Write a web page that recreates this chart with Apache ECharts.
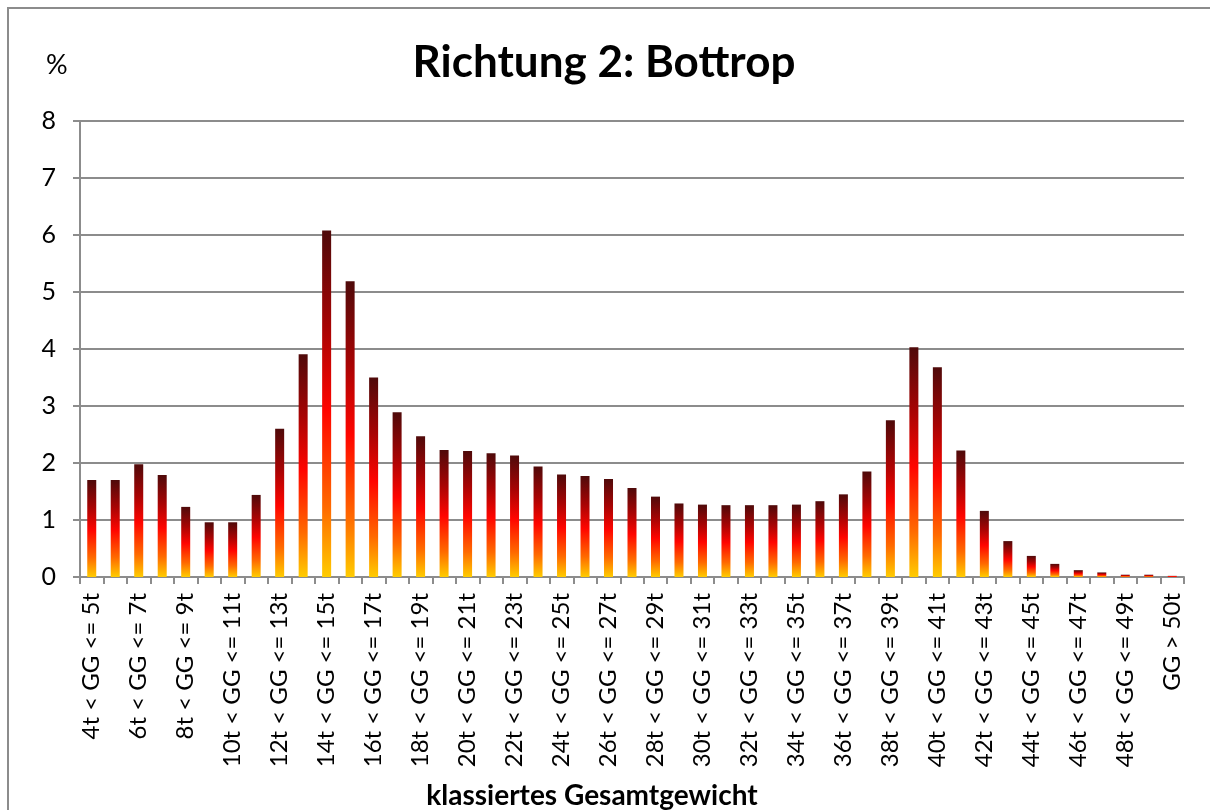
<!DOCTYPE html>
<html>
<head>
<meta charset="utf-8">
<script src="https://cdn.jsdelivr.net/npm/echarts@6/dist/echarts.min.js"></script>
<style>html,body{margin:0;padding:0;background:#fff;}#c{width:1210px;height:810px;}</style>
</head>
<body>
<div id="c"></div>
<script>
const categories = [
  '4t < GG <= 5t','5t < GG <= 6t','6t < GG <= 7t','7t < GG <= 8t','8t < GG <= 9t',
  '9t < GG <= 10t','10t < GG <= 11t','11t < GG <= 12t','12t < GG <= 13t','13t < GG <= 14t',
  '14t < GG <= 15t','15t < GG <= 16t','16t < GG <= 17t','17t < GG <= 18t','18t < GG <= 19t',
  '19t < GG <= 20t','20t < GG <= 21t','21t < GG <= 22t','22t < GG <= 23t','23t < GG <= 24t',
  '24t < GG <= 25t','25t < GG <= 26t','26t < GG <= 27t','27t < GG <= 28t','28t < GG <= 29t',
  '29t < GG <= 30t','30t < GG <= 31t','31t < GG <= 32t','32t < GG <= 33t','33t < GG <= 34t',
  '34t < GG <= 35t','35t < GG <= 36t','36t < GG <= 37t','37t < GG <= 38t','38t < GG <= 39t',
  '39t < GG <= 40t','40t < GG <= 41t','41t < GG <= 42t','42t < GG <= 43t','43t < GG <= 44t',
  '44t < GG <= 45t','45t < GG <= 46t','46t < GG <= 47t','47t < GG <= 48t','48t < GG <= 49t',
  '49t < GG <= 50t','GG > 50t'
];
const values = [
  1.70, 1.70, 1.98, 1.79, 1.23, 0.96, 0.96, 1.44, 2.60, 3.91,
  6.08, 5.19, 3.50, 2.89, 2.47, 2.23, 2.21, 2.17, 2.13, 1.94,
  1.80, 1.77, 1.72, 1.56, 1.41, 1.29, 1.27, 1.26, 1.26, 1.26,
  1.27, 1.33, 1.45, 1.85, 2.75, 4.03, 3.68, 2.22, 1.16, 0.63,
  0.37, 0.23, 0.12, 0.08, 0.04, 0.04, 0.02
];
const yTicks = [0, 1, 2, 3, 4, 5, 6, 7, 8];

const chart = echarts.init(document.getElementById('c'), null, {renderer: 'canvas'});
const axisColor = '#8c8c8c';
chart.setOption({
  backgroundColor: '#ffffff',
  animation: false,
  title: [
    {text: 'Richtung 2: Bottrop', left: 599, top: 36, textAlign: 'center',
     textStyle: {fontFamily: 'Lato', fontWeight: 'bold', fontSize: 44, color: '#000'}},
    {text: '%', left: 41, top: 47,
     textStyle: {fontFamily: 'Lato', fontWeight: 'normal', fontSize: 27, color: '#000'}},
    {text: 'klassiertes Gesamtgewicht', left: 587, top: 777, textAlign: 'center',
     textStyle: {fontFamily: 'Lato', fontWeight: 'bold', fontSize: 28, color: '#000'}}
  ],
  graphic: [
    {type: 'rect', shape: {x: 8, y: 8, width: 1400, height: 1000},
     style: {fill: 'none', stroke: '#8c8c8c', lineWidth: 2}, z: -1}
  ],
  grid: {left: 80, right: 26, top: 121, bottom: 233, containLabel: false},
  xAxis: {
    type: 'category',
    data: categories,
    boundaryGap: true,
    axisLine: {lineStyle: {color: axisColor, width: 2}},
    axisTick: {show: true, interval: 0, length: 7, lineStyle: {color: axisColor, width: 2}},
    axisLabel: {interval: 1, rotate: 90, margin: 16, fontFamily: 'Lato', fontSize: 24, color: '#000'},
    splitLine: {show: false}
  },
  yAxis: {
    type: 'value',
    min: 0, max: 8, interval: 1,
    axisLine: {show: true, lineStyle: {color: axisColor, width: 2}},
    axisTick: {show: true, length: 7, lineStyle: {color: axisColor, width: 2}},
    axisLabel: {margin: 24, fontFamily: 'Lato', fontSize: 25, color: '#000',
      formatter: function (v) { return yTicks.indexOf(v) >= 0 ? String(v) : ''; }},
    splitLine: {show: true, lineStyle: {color: axisColor, width: 2}}
  },
  series: [{
    type: 'bar',
    data: values,
    barWidth: 9,
    itemStyle: {
      color: new echarts.graphic.LinearGradient(0, 0, 0, 1, [
        {offset: 0, color: '#4f0a0a'},
        {offset: 0.28, color: '#a80404'},
        {offset: 0.52, color: '#ff0500'},
        {offset: 0.8, color: '#ff6a00'},
        {offset: 1, color: '#ffcc00'}
      ])
    }
  }]
});
</script>
</body>
</html>
